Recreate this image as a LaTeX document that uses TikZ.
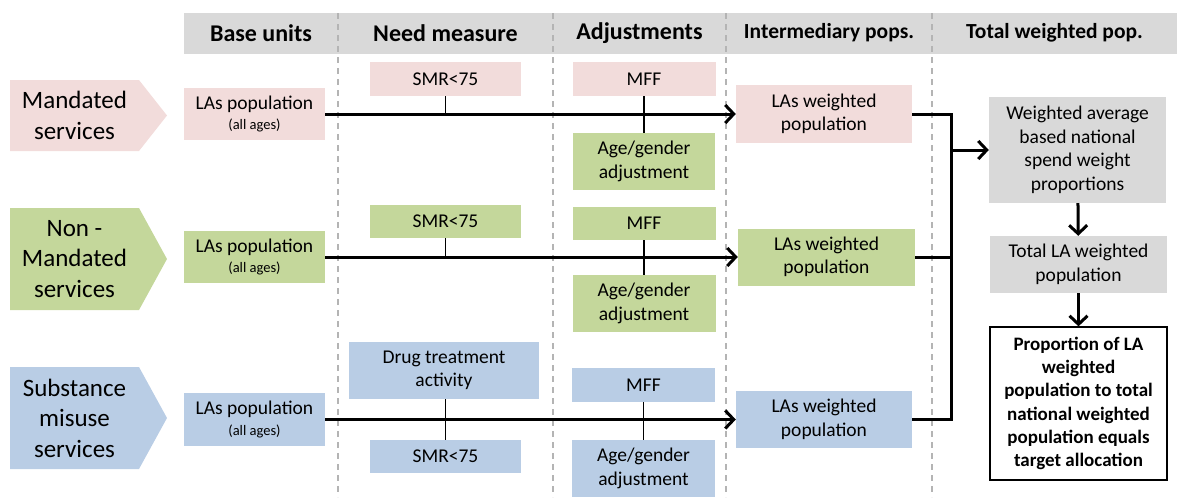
\documentclass[tikz,border=0pt]{standalone}
\usepackage{fontspec}
\setmainfont{Carlito}
\usetikzlibrary{positioning,calc,arrows.meta}

\definecolor{mandpink}{HTML}{F2DCDB}
\definecolor{nonmgreen}{HTML}{C4D79B}
\definecolor{subsblue}{HTML}{B9CDE5}
\definecolor{hdrgray}{HTML}{D9D9D9}
\definecolor{colgray}{HTML}{B4B4B4}

\begin{document}
\begin{tikzpicture}[x=1pt,y=-1pt,>={Straight Barb[length=8.5pt,width=18pt]},
    box/.style={fill=#1,inner sep=0pt,align=center,font=\fontsize{19.5}{23.5}\selectfont},
    hdr/.style={font=\fontsize{24}{28}\selectfont\bfseries},
    hdrs/.style={font=\fontsize{21.5}{26}\selectfont\bfseries},
    rowlab/.style={align=center,font=\fontsize{25}{30.5}\selectfont},
    flow/.style={line width=3pt},
    tick/.style={line width=1.8pt}]
    \useasboundingbox (0,0) rectangle (1177,499);
    % column headings and dashed dividers
    \fill[hdrgray] (184,13) rectangle (1177,54);
    \foreach \cx in {338,553,726,932}
        \draw[colgray,line width=1.8pt,dash pattern=on 6pt off 5pt] (\cx,13) -- (\cx,497);
    \node[hdr] (h-base) at (261,33) {Base units};
    \node[hdr] (h-need) at (445.5,33) {Need measure};
    \node[hdr] (h-adj) at (639.5,33) {Adjustments};
    \node[hdrs] (h-int) at (829,33) {Intermediary pops.};
    \node[hdrs] (h-tot) at (1054.5,33) {Total weighted pop.};

    % service arrows on the left
    \fill[mandpink] (10,80) -- (139,80) -- (167,115.5) -- (139,151) -- (10,151) -- cycle;
    \fill[nonmgreen] (10,208) -- (139,208) -- (167,259) -- (139,310) -- (10,310) -- cycle;
    \fill[subsblue] (10,367) -- (139,367) -- (167,418) -- (139,469) -- (10,469) -- cycle;
    \node[rowlab] (l-mand) at (74.5,115.5) {Mandated\\services};
    \node[rowlab] (l-nonm) at (74.5,259) {Non -\\Mandated\\services};
    \node[rowlab] (l-subs) at (74.5,418) {Substance\\misuse\\services};

    % mandated services
    \node[box=mandpink,minimum width=141,minimum height=52] (m-base) at (254.5,114) {LAs population\\[-3pt]{\fontsize{14.5}{16}\selectfont (all ages)}};
    \node[box=mandpink,minimum width=151,minimum height=34] (m-smr) at (445.5,79) {SMR<75};
    \node[box=mandpink,minimum width=143,minimum height=34] (m-mff) at (644,79) {MFF};
    \node[box=nonmgreen,minimum width=142,minimum height=57] (m-age) at (644,161.5) {Age/gender\\adjustment};
    \node[box=mandpink,minimum width=176,minimum height=58] (m-int) at (824,114) {LAs weighted\\population};
    \draw[flow,->] (m-base) -- (m-int);
    \draw[tick] (m-smr.south) -- (m-smr.south |- m-base);
    \draw[tick] (m-mff.south) -- (m-age.north);

    % non-mandated services
    \node[box=nonmgreen,minimum width=141,minimum height=52] (n-base) at (254.5,257) {LAs population\\[-3pt]{\fontsize{14.5}{16}\selectfont (all ages)}};
    \node[box=nonmgreen,minimum width=151,minimum height=33] (n-smr) at (445.5,221.5) {SMR<75};
    \node[box=nonmgreen,minimum width=143,minimum height=33] (n-mff) at (644,223.5) {MFF};
    \node[box=nonmgreen,minimum width=143,minimum height=57] (n-age) at (644,303.5) {Age/gender\\adjustment};
    \node[box=nonmgreen,minimum width=177,minimum height=57] (n-int) at (826.5,257) {LAs weighted\\population};
    \draw[flow,->] (n-base) -- (n-int);
    \draw[tick] (n-smr.south) -- (n-smr.south |- n-base);
    \draw[tick] (n-mff.south) -- (n-age.north);

    % substance misuse services
    \node[box=subsblue,minimum width=141,minimum height=53] (s-base) at (254.5,419.5) {LAs population\\[-3pt]{\fontsize{14.5}{16}\selectfont (all ages)}};
    \node[box=subsblue,minimum width=190,minimum height=57] (s-drug) at (444,370.5) {Drug treatment\\activity};
    \node[box=subsblue,minimum width=151,minimum height=33] (s-smr) at (445.5,456.5) {SMR<75};
    \node[box=subsblue,minimum width=143,minimum height=34] (s-mff) at (643.5,385) {MFF};
    \node[box=subsblue,minimum width=143,minimum height=57] (s-age) at (643.5,468.5) {Age/gender\\adjustment};
    \node[box=subsblue,minimum width=176,minimum height=57] (s-int) at (824,419.5) {LAs weighted\\population};
    \draw[flow,->] (s-base) -- (s-int);
    \draw[tick] (s-smr.north |- s-drug.south) -- (s-smr.north);
    \draw[tick] (s-mff.south) -- (s-age.north);

    % totals
    \node[box=hdrgray,minimum width=177,minimum height=106] (t-wavg) at (1077.5,150) {Weighted average\\based national\\spend weight\\proportions};
    \node[box=hdrgray,minimum width=177,minimum height=57] (t-tot) at (1078.5,264.5) {Total LA weighted\\population};
    \node[box=white,draw=black,line width=1.3pt,minimum width=177,minimum height=153,
        font=\fontsize{19}{23.2}\selectfont\bfseries] (t-prop) at (1078.5,403.5)
        {Proportion of LA\\weighted\\population to total\\national weighted\\population equals\\target allocation};
    \coordinate (bus-top) at (951,114);
    \coordinate (bus-bot) at (951,419.5);
    \draw[flow] (m-int.east) -- (bus-top) -- (bus-bot) -- (s-int.east);
    \draw[flow] (n-int.east) -- (n-int.east -| bus-top);
    \draw[flow,->] (bus-top |- t-wavg.west) -- (t-wavg.west);
    \draw[flow,->] (t-wavg) -- (t-tot);
    \draw[flow,->] (t-tot) -- (t-prop);
\end{tikzpicture}
\end{document}
